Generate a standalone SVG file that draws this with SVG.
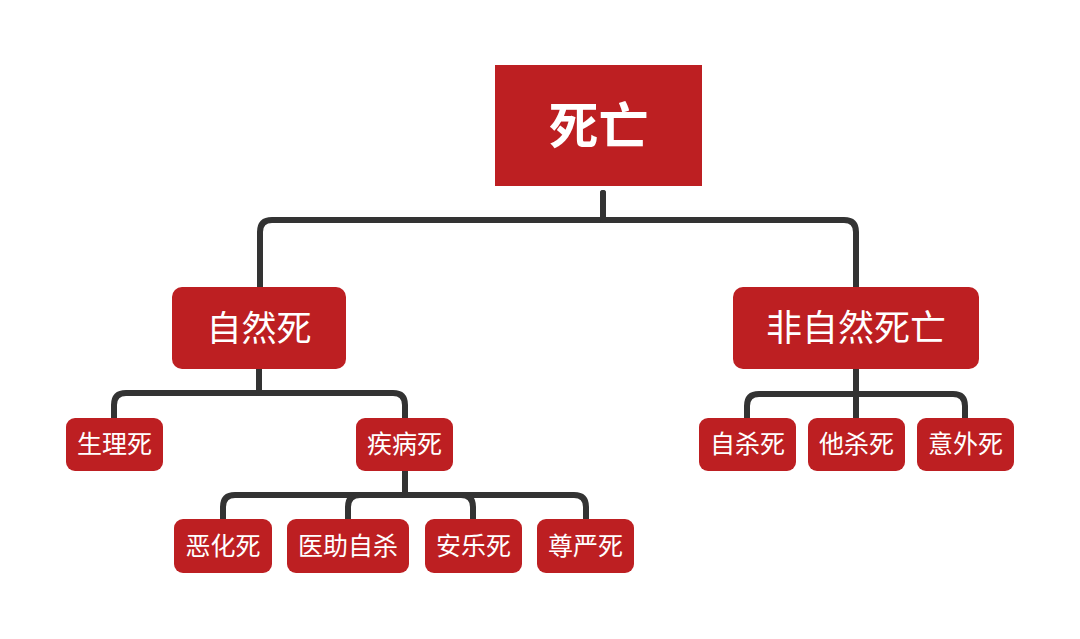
<svg xmlns="http://www.w3.org/2000/svg" width="1080" height="639" viewBox="0 0 1080 639">
<style>
.n{fill:#BD1F22}
.t{fill:#FFFFFF;font-family:"Noto Sans CJK SC","Noto Sans",sans-serif;text-anchor:middle}
.c{fill:none;stroke:#333333;stroke-width:6;stroke-linecap:round;stroke-linejoin:round}
</style>
<rect width="1080" height="639" fill="#FFFFFF"/>
<g id="connectors" class="c">
<path d="M603,193 V220 H272 Q260,220 260,232 V290"/>
<path d="M603,193 V220 H844 Q856,220 856,232 V290"/>
<path d="M259,366 V393 H126 Q114,393 114,405 V421"/>
<path d="M259,366 V393 H393 Q405,393 405,405 V421"/>
<path d="M405,468 V495 H235 Q223,495 223,507 V522"/>
<path d="M405,468 V495 H360 Q348,495 348,507 V522"/>
<path d="M405,468 V495 H461 Q473,495 473,507 V522"/>
<path d="M405,468 V495 H574 Q586,495 586,507 V522"/>
<path d="M856,366 V394 H759 Q747,394 747,406 V421"/>
<path d="M856,366 V421"/>
<path d="M856,366 V394 H953 Q965,394 965,406 V421"/>
</g>
<g id="root"><rect class="n" x="495" y="65" width="207" height="121"/><text class="t" x="598.5" y="144" font-size="50" font-weight="bold">死亡</text></g>
<g id="natural"><rect class="n" x="172" y="287" width="174" height="82" rx="10"/><text class="t" x="259" y="341" font-size="35">自然死</text></g>
<g id="unnatural"><rect class="n" x="733" y="287" width="246" height="82" rx="10"/><text class="t" x="856" y="341" font-size="36">非自然死亡</text></g>
<g id="physio"><rect class="n" x="66" y="418" width="97" height="53" rx="9"/><text class="t" x="114.5" y="453" font-size="25">生理死</text></g>
<g id="disease"><rect class="n" x="356" y="418" width="97" height="53" rx="9"/><text class="t" x="404.5" y="453" font-size="25">疾病死</text></g>
<g id="suicide"><rect class="n" x="699" y="418" width="97" height="53" rx="9"/><text class="t" x="747.5" y="453" font-size="25">自杀死</text></g>
<g id="homicide"><rect class="n" x="808" y="418" width="97" height="53" rx="9"/><text class="t" x="856.5" y="453" font-size="25">他杀死</text></g>
<g id="accident"><rect class="n" x="917" y="418" width="97" height="53" rx="9"/><text class="t" x="965.5" y="453" font-size="25">意外死</text></g>
<g id="worsen"><rect class="n" x="174" y="519" width="98" height="54" rx="9"/><text class="t" x="223" y="555" font-size="25">恶化死</text></g>
<g id="assisted"><rect class="n" x="287" y="519" width="122" height="54" rx="9"/><text class="t" x="348" y="555" font-size="25">医助自杀</text></g>
<g id="euthanasia"><rect class="n" x="425" y="519" width="97" height="54" rx="9"/><text class="t" x="473.5" y="555" font-size="25">安乐死</text></g>
<g id="dignity"><rect class="n" x="537" y="519" width="97" height="54" rx="9"/><text class="t" x="585.5" y="555" font-size="25">尊严死</text></g>
</svg>
